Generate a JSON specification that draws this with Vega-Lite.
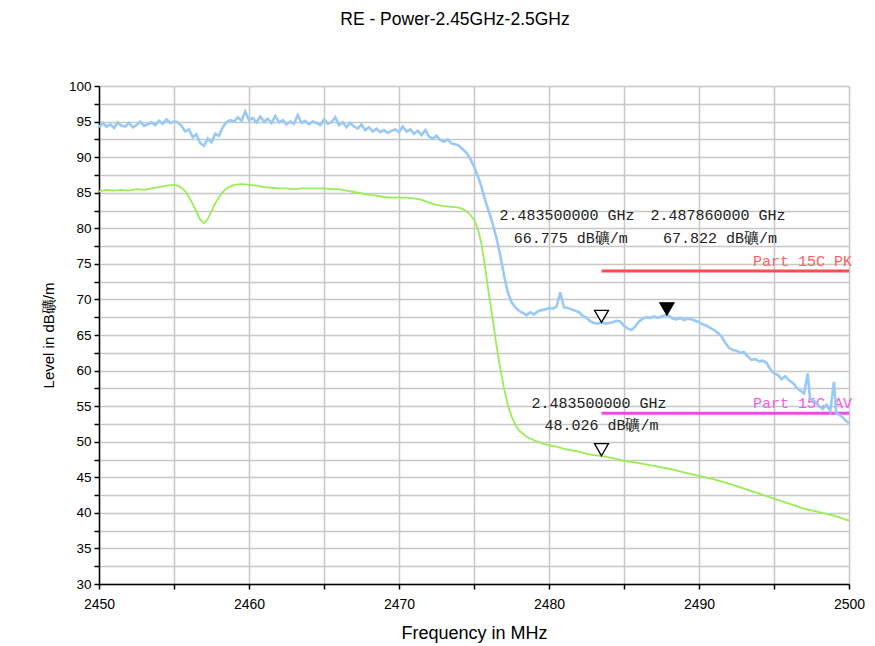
{
  "$schema": "https://vega.github.io/schema/vega-lite/v6.json",
  "width": 750,
  "height": 498,
  "autosize": {"type": "none"},
  "padding": {"left": 99, "top": 86, "right": 26, "bottom": 62},
  "background": "white",
  "title": {"text": "RE - Power-2.45GHz-2.5GHz", "font": "Liberation Sans", "fontSize": 17.5, "fontWeight": "normal", "color": "#000", "anchor": "middle", "offset": 51, "dx": -19},
  "config": {
    "view": {"stroke": null},
    "axis": {"labelFont": "Liberation Sans", "titleFont": "Liberation Sans", "labelColor": "#000", "titleColor": "#000", "titleFontWeight": "normal", "domainColor": "#000", "domainWidth": 1.5, "tickColor": "#000", "tickWidth": 1.5, "tickSize": 5, "gridColor": "#c8c8c8", "gridWidth": 1.5, "labelFontSize": 13, "labelFlush": false}
  },
  "datasets": {
    "pk": [
      {"f":2450.00,"v":94.2},{"f":2450.25,"v":94.8},{"f":2450.50,"v":94.3},{"f":2450.75,"v":94.6},{"f":2451.00,"v":94.1},{"f":2451.25,"v":94.9},{"f":2451.50,"v":94.4},{"f":2451.75,"v":94.3},{"f":2452.00,"v":94.8},{"f":2452.25,"v":94.2},{"f":2452.50,"v":94.5},{"f":2452.75,"v":95.0},{"f":2453.00,"v":94.4},{"f":2453.25,"v":94.6},{"f":2453.50,"v":94.9},{"f":2453.75,"v":94.5},{"f":2454.00,"v":95.1},{"f":2454.25,"v":94.7},{"f":2454.50,"v":95.3},{"f":2454.75,"v":94.8},{"f":2455.00,"v":95.0},{"f":2455.25,"v":94.9},{"f":2455.50,"v":94.4},{"f":2455.75,"v":93.6},{"f":2456.00,"v":93.9},{"f":2456.25,"v":92.8},{"f":2456.50,"v":93.2},{"f":2456.75,"v":92.0},{"f":2457.00,"v":91.6},{"f":2457.25,"v":92.6},{"f":2457.50,"v":92.1},{"f":2457.75,"v":93.3},{"f":2458.00,"v":93.0},{"f":2458.25,"v":94.2},{"f":2458.50,"v":94.9},{"f":2458.75,"v":95.2},{"f":2459.00,"v":95.0},{"f":2459.25,"v":95.6},{"f":2459.50,"v":95.1},{"f":2459.75,"v":96.4},{"f":2460.00,"v":95.2},{"f":2460.25,"v":95.5},{"f":2460.50,"v":94.9},{"f":2460.75,"v":95.7},{"f":2461.00,"v":95.0},{"f":2461.25,"v":95.4},{"f":2461.50,"v":94.8},{"f":2461.75,"v":95.8},{"f":2462.00,"v":94.9},{"f":2462.25,"v":95.2},{"f":2462.50,"v":94.6},{"f":2462.75,"v":95.0},{"f":2463.00,"v":94.7},{"f":2463.25,"v":95.9},{"f":2463.50,"v":94.8},{"f":2463.75,"v":95.1},{"f":2464.00,"v":94.6},{"f":2464.25,"v":95.0},{"f":2464.50,"v":94.8},{"f":2464.75,"v":94.5},{"f":2465.00,"v":95.3},{"f":2465.25,"v":94.7},{"f":2465.50,"v":94.9},{"f":2465.75,"v":95.6},{"f":2466.00,"v":94.5},{"f":2466.25,"v":94.9},{"f":2466.50,"v":94.2},{"f":2466.75,"v":94.8},{"f":2467.00,"v":94.3},{"f":2467.25,"v":94.0},{"f":2467.50,"v":94.6},{"f":2467.75,"v":93.8},{"f":2468.00,"v":94.2},{"f":2468.25,"v":93.6},{"f":2468.50,"v":94.0},{"f":2468.75,"v":93.5},{"f":2469.00,"v":93.8},{"f":2469.25,"v":93.4},{"f":2469.50,"v":93.7},{"f":2469.75,"v":93.9},{"f":2470.00,"v":93.5},{"f":2470.25,"v":94.3},{"f":2470.50,"v":93.6},{"f":2470.75,"v":93.9},{"f":2471.00,"v":93.3},{"f":2471.25,"v":93.7},{"f":2471.50,"v":93.1},{"f":2471.75,"v":93.8},{"f":2472.00,"v":92.9},{"f":2472.25,"v":92.6},{"f":2472.50,"v":93.0},{"f":2472.75,"v":92.4},{"f":2473.00,"v":92.2},{"f":2473.25,"v":92.5},{"f":2473.50,"v":91.9},{"f":2473.75,"v":91.8},{"f":2474.00,"v":91.6},{"f":2474.25,"v":91.1},{"f":2474.50,"v":90.6},{"f":2474.75,"v":89.8},{"f":2475.00,"v":88.7},{"f":2475.25,"v":87.4},{"f":2475.50,"v":85.8},{"f":2475.75,"v":83.9},{"f":2476.00,"v":82.3},{"f":2476.25,"v":80.6},{"f":2476.50,"v":78.6},{"f":2476.75,"v":76.2},{"f":2477.00,"v":73.4},{"f":2477.25,"v":71.0},{"f":2477.50,"v":69.6},{"f":2477.75,"v":68.9},{"f":2478.00,"v":68.4},{"f":2478.25,"v":68.1},{"f":2478.50,"v":67.8},{"f":2478.75,"v":68.2},{"f":2479.00,"v":67.9},{"f":2479.25,"v":68.3},{"f":2479.50,"v":68.5},{"f":2479.75,"v":68.6},{"f":2480.00,"v":68.8},{"f":2480.25,"v":68.7},{"f":2480.50,"v":69.0},{"f":2480.75,"v":71.0},{"f":2481.00,"v":68.9},{"f":2481.25,"v":68.8},{"f":2481.50,"v":68.6},{"f":2481.75,"v":68.4},{"f":2482.00,"v":68.2},{"f":2482.25,"v":67.7},{"f":2482.50,"v":67.4},{"f":2482.75,"v":66.9},{"f":2483.00,"v":66.7},{"f":2483.25,"v":66.6},{"f":2483.50,"v":66.8},{"f":2483.75,"v":66.6},{"f":2484.00,"v":66.7},{"f":2484.25,"v":66.8},{"f":2484.50,"v":67.0},{"f":2484.75,"v":66.9},{"f":2485.00,"v":66.3},{"f":2485.25,"v":65.9},{"f":2485.50,"v":65.7},{"f":2485.75,"v":66.2},{"f":2486.00,"v":66.9},{"f":2486.25,"v":67.3},{"f":2486.50,"v":67.5},{"f":2486.75,"v":67.4},{"f":2487.00,"v":67.6},{"f":2487.25,"v":67.4},{"f":2487.50,"v":67.6},{"f":2487.75,"v":67.8},{"f":2488.00,"v":67.7},{"f":2488.25,"v":67.3},{"f":2488.50,"v":67.2},{"f":2488.75,"v":67.4},{"f":2489.00,"v":67.1},{"f":2489.25,"v":67.3},{"f":2489.50,"v":67.2},{"f":2489.75,"v":67.0},{"f":2490.00,"v":66.8},{"f":2490.25,"v":66.5},{"f":2490.50,"v":66.3},{"f":2490.75,"v":66.0},{"f":2491.00,"v":65.7},{"f":2491.25,"v":65.3},{"f":2491.50,"v":64.8},{"f":2491.75,"v":63.9},{"f":2492.00,"v":63.2},{"f":2492.25,"v":62.9},{"f":2492.50,"v":62.8},{"f":2492.75,"v":62.5},{"f":2493.00,"v":62.6},{"f":2493.25,"v":62.0},{"f":2493.50,"v":61.5},{"f":2493.75,"v":61.6},{"f":2494.00,"v":61.3},{"f":2494.25,"v":61.4},{"f":2494.50,"v":61.1},{"f":2494.75,"v":60.2},{"f":2495.00,"v":59.6},{"f":2495.25,"v":59.4},{"f":2495.50,"v":58.8},{"f":2495.75,"v":59.2},{"f":2496.00,"v":58.6},{"f":2496.25,"v":58.3},{"f":2496.50,"v":57.6},{"f":2496.75,"v":57.2},{"f":2497.00,"v":56.8},{"f":2497.25,"v":59.6},{"f":2497.40,"v":56.1},{"f":2497.75,"v":55.6},{"f":2498.00,"v":55.0},{"f":2498.25,"v":54.6},{"f":2498.50,"v":55.2},{"f":2498.75,"v":54.3},{"f":2499.00,"v":58.4},{"f":2499.15,"v":54.0},{"f":2499.50,"v":53.6},{"f":2499.75,"v":53.0},{"f":2500.00,"v":52.6}
    ],
    "av": [
      {"f":2450.0,"v":85.2},{"f":2450.5,"v":85.4},{"f":2451.0,"v":85.3},{"f":2451.5,"v":85.4},{"f":2452.0,"v":85.3},{"f":2452.5,"v":85.5},{"f":2453.0,"v":85.4},{"f":2453.5,"v":85.6},{"f":2454.0,"v":85.8},{"f":2454.5,"v":86.0},{"f":2455.0,"v":86.1},{"f":2455.25,"v":86.0},{"f":2455.5,"v":85.7},{"f":2455.75,"v":85.2},{"f":2456.0,"v":84.4},{"f":2456.25,"v":83.4},{"f":2456.5,"v":82.3},{"f":2456.75,"v":81.2},{"f":2457.0,"v":80.7},{"f":2457.25,"v":81.3},{"f":2457.5,"v":82.4},{"f":2457.75,"v":83.5},{"f":2458.0,"v":84.4},{"f":2458.25,"v":85.1},{"f":2458.5,"v":85.6},{"f":2458.75,"v":85.9},{"f":2459.0,"v":86.1},{"f":2459.5,"v":86.2},{"f":2460.0,"v":86.1},{"f":2460.5,"v":86.0},{"f":2461.0,"v":85.8},{"f":2461.5,"v":85.7},{"f":2462.0,"v":85.6},{"f":2462.5,"v":85.6},{"f":2463.0,"v":85.5},{"f":2463.5,"v":85.6},{"f":2464.0,"v":85.6},{"f":2464.5,"v":85.6},{"f":2465.0,"v":85.6},{"f":2465.5,"v":85.5},{"f":2466.0,"v":85.5},{"f":2466.5,"v":85.3},{"f":2467.0,"v":85.1},{"f":2467.5,"v":84.9},{"f":2468.0,"v":84.7},{"f":2468.5,"v":84.6},{"f":2469.0,"v":84.4},{"f":2469.5,"v":84.3},{"f":2470.0,"v":84.3},{"f":2470.5,"v":84.3},{"f":2471.0,"v":84.2},{"f":2471.5,"v":84.0},{"f":2472.0,"v":83.6},{"f":2472.5,"v":83.3},{"f":2473.0,"v":83.1},{"f":2473.5,"v":83.0},{"f":2474.0,"v":82.9},{"f":2474.25,"v":82.7},{"f":2474.5,"v":82.4},{"f":2474.75,"v":81.9},{"f":2475.0,"v":81.2},{"f":2475.25,"v":80.0},{"f":2475.5,"v":77.8},{"f":2475.75,"v":74.4},{"f":2476.0,"v":70.6},{"f":2476.25,"v":67.2},{"f":2476.5,"v":63.5},{"f":2476.75,"v":60.3},{"f":2477.0,"v":57.5},{"f":2477.25,"v":55.2},{"f":2477.5,"v":53.6},{"f":2477.75,"v":52.4},{"f":2478.0,"v":51.6},{"f":2478.5,"v":50.7},{"f":2479.0,"v":50.2},{"f":2479.5,"v":49.8},{"f":2480.0,"v":49.5},{"f":2480.5,"v":49.3},{"f":2481.0,"v":49.0},{"f":2481.5,"v":48.8},{"f":2482.0,"v":48.6},{"f":2482.5,"v":48.3},{"f":2483.0,"v":48.1},{"f":2483.5,"v":48.0},{"f":2484.0,"v":47.8},{"f":2484.5,"v":47.6},{"f":2485.0,"v":47.3},{"f":2486.0,"v":47.0},{"f":2487.0,"v":46.6},{"f":2488.0,"v":46.2},{"f":2489.0,"v":45.7},{"f":2490.0,"v":45.2},{"f":2491.0,"v":44.7},{"f":2492.0,"v":44.1},{"f":2493.0,"v":43.4},{"f":2494.0,"v":42.7},{"f":2495.0,"v":42.0},{"f":2496.0,"v":41.3},{"f":2497.0,"v":40.6},{"f":2498.0,"v":40.1},{"f":2499.0,"v":39.6},{"f":2500.0,"v":38.9}
    ],
    "limpk": [{"f":2483.5,"v":74},{"f":2500,"v":74}],
    "limav": [{"f":2483.5,"v":54},{"f":2500,"v":54}],
    "limlabels": [{"f":2500,"v":74,"t":"Part 15C PK","c":"pk"},{"f":2500,"v":54,"t":"Part 15C AV","c":"av"}],
    "markers": [{"f":2483.5,"v":66.775,"k":"open"},{"f":2487.86,"v":67.822,"k":"filled"},{"f":2483.5,"v":48.026,"k":"open"}],
    "mtext": [
      {"f":2481.2,"v":81.87,"t":"2.483500000 GHz"},
      {"f":2481.45,"v":78.64,"t":"66.775 dB礦/m"},
      {"f":2491.27,"v":81.87,"t":"2.487860000 GHz"},
      {"f":2491.4,"v":78.64,"t":"67.822 dB礦/m"},
      {"f":2483.33,"v":55.44,"t":"2.483500000 GHz"},
      {"f":2483.5,"v":52.35,"t":"48.026 dB礦/m"}
    ]
  },
  "encoding": {
    "x": {"field": "f", "type": "quantitative", "scale": {"domain": [2450, 2500], "nice": false, "zero": false},
      "axis": {"title": "Frequency in MHz", "titleFontSize": 18, "titlePadding": 13, "labelFontSize": 14, "values": [2450,2455,2460,2465,2470,2475,2480,2485,2490,2495,2500], "format": "d", "labelExpr": "datum.value % 10 == 0 ? datum.label : ''", "labelPadding": 8}},
    "y": {"field": "v", "type": "quantitative", "scale": {"domain": [30, 100], "nice": false, "zero": false},
      "axis": {"title": "Level in dB礦/m", "titleFontSize": 15, "titlePadding": 12, "labelFontSize": 13.5, "values": [30,32.5,35,37.5,40,42.5,45,47.5,50,52.5,55,57.5,60,62.5,65,67.5,70,72.5,75,77.5,80,82.5,85,87.5,90,92.5,95,97.5,100], "labelExpr": "datum.value % 5 == 0 ? format(datum.value, 'd') : ''", "labelPadding": 3}}
  },
  "layer": [
    {"data": {"name": "limpk"}, "mark": {"type": "line", "color": "#ff4d4d", "strokeWidth": 3}},
    {"data": {"name": "limav"}, "mark": {"type": "line", "color": "#ff44ee", "strokeWidth": 3}},
    {"data": {"name": "limlabels"}, "mark": {"type": "text", "font": "Liberation Mono", "fontSize": 15, "align": "right", "baseline": "bottom", "dy": -2, "dx": 3},
      "encoding": {"text": {"field": "t"}, "color": {"field": "c", "type": "nominal", "scale": {"domain": ["pk", "av"], "range": ["#ff6060", "#ff55ee"]}, "legend": null}}},
    {"data": {"name": "av"}, "mark": {"type": "line", "color": "#99ee55", "strokeWidth": 1.8}},
    {"data": {"name": "pk"}, "mark": {"type": "line", "color": "#99c9f7", "strokeWidth": 2.6}},
    {"data": {"name": "markers"}, "mark": {"type": "point", "shape": "triangle-down", "size": 196, "filled": true, "stroke": "#000", "strokeWidth": 1.3, "yOffset": -6, "opacity": 1},
      "encoding": {"fill": {"field": "k", "type": "nominal", "scale": {"domain": ["open", "filled"], "range": ["#ffffff", "#000000"]}, "legend": null}}},
    {"data": {"name": "mtext"}, "mark": {"type": "text", "font": "Liberation Mono", "fontSize": 15, "align": "center", "baseline": "middle", "color": "#222"},
      "encoding": {"text": {"field": "t"}}}
  ]
}
